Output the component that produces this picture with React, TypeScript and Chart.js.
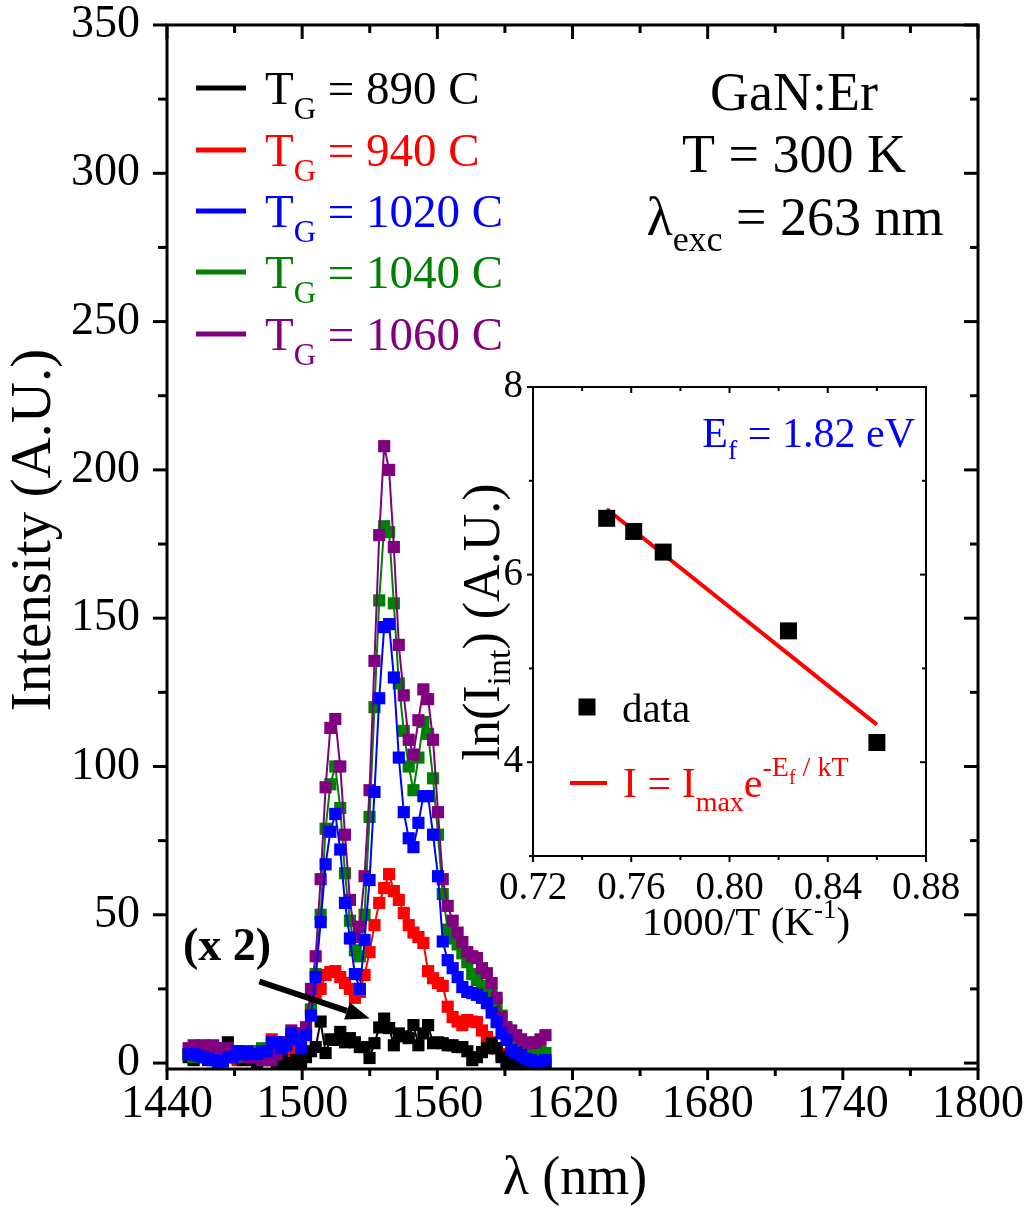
import React, { useEffect, useRef } from "react";
import { Chart, registerables } from "chart.js";

Chart.register(...registerables);

const SERIF = "'Liberation Serif', 'Times New Roman', Times, serif";

// ---------------- main spectrum data ----------------
const wavelengthNm = [
  1449.6, 1451.8, 1453.9, 1456.1, 1458.3, 1460.5, 1462.6, 1464.8, 1467.0, 1469.1,
  1471.3, 1473.5, 1475.6, 1477.8, 1480.0, 1482.2, 1484.3, 1486.5, 1488.7, 1490.8,
  1493.0, 1495.2, 1497.3, 1499.5, 1501.7, 1503.9, 1506.0, 1508.2, 1510.4, 1512.5,
  1514.7, 1516.9, 1519.0, 1521.2, 1523.4, 1525.6, 1527.7, 1529.9, 1532.1, 1534.2,
  1536.4, 1538.6, 1540.7, 1542.9, 1545.1, 1547.3, 1549.4, 1551.6, 1553.8, 1555.9,
  1558.1, 1560.3, 1562.4, 1564.6, 1566.8, 1569.0, 1571.1, 1573.3, 1575.5, 1577.6,
  1579.8, 1582.0, 1584.1, 1586.3, 1588.5, 1590.7, 1592.8, 1595.0, 1597.2, 1599.3,
  1601.5, 1603.7, 1605.8, 1608.0,
];

// T_G = 890 C (shown x 2)
const tg890 = [
  2, 1, 3, 2, 1, 3, 4, 5, 7, 4,
  2, 1, 2, 1, 0, 1, 2, 1, 0, 1,
  0, 0, 1, 0, 2, 4, 5.4, 14, 3.4, 8,
  7.8, 10.5, 7, 8.4, 7, 5.4, 5.4, 1.7, 6.7, 12,
  15, 11.8, 6, 10, 9, 8.4, 12.8, 6, 10, 12.8,
  6.7, 7, 6.7, 6, 6, 5.4, 5.4, 4, 1, 2,
  3.7, 5, 6.7, 5, 2, 0, 1, 0, 0, 0,
  1, 0, 0, 0,
];

// T_G = 940 C
const tg940 = [
  3, 2, 4, 3, 2, 3, 1, 2, 3, 2,
  1, 2, 3, 2, 1, 2, 3, 8, 7, 3,
  2, 4, 5, 6, 10, 18, 22, 25, 29.7, 30.7,
  31, 29, 27, 25, 22, 24, 29.7, 37.4, 46.5, 54,
  59, 63.7, 58, 55, 50.6, 46.5, 44, 42.5, 40.5, 31,
  28.6, 27, 26, 19, 15.5, 14, 12.8, 14.5, 14, 13.8,
  11, 8.8, 7, 5, 3, 2, 1, 1, 0, 1,
  0, 1, 0, 0,
];

// T_G = 1020 C
const tg1020 = [
  3, 3, 2.5, 2, 1.5, 1, 0, 0.5, 2, 2,
  4, 3, 4, 3, 3, 4, 4, 7, 7, 5,
  6, 10, 8, 5, 9.4, 16, 29, 47.5, 67, 78,
  84, 72, 54, 42, 30, 25, 41.5, 61.7, 91.4, 123,
  147, 148, 130, 103, 84.6, 75.8, 72.8, 81, 90, 90,
  77, 63, 41, 34.7, 32, 29, 25.6, 24, 23.6, 23,
  22, 20.2, 17, 13.8, 10, 7.8, 4.4, 3.5, 2.7, 1.5,
  1, 0.5, 0.3, 1,
];

// T_G = 1040 C
const tg1040 = [
  3, 2, 3, 2, 3, 2, 1, 2, 3, 2,
  3, 2, 3, 2, 4, 5, 4, 5, 6, 7,
  7, 8, 9, 10, 12, 18, 30, 50, 79, 94,
  100, 86, 64, 48, 38, 36, 50, 83, 120, 156,
  181, 179, 155, 128, 112, 100, 92, 103, 115, 111,
  96, 77, 57, 45, 42, 40, 37, 34, 30, 28,
  26, 25, 23.6, 20, 16, 11, 8, 6.7, 6, 5,
  5, 4, 4, 3.4,
];

// T_G = 1060 C
const tg1060 = [
  5, 6, 5, 6, 4, 6, 5, 4, 5, 3,
  4, 3, 2, 3, 2, 1, 2, 1, 3, 5,
  7, 11, 8, 10, 12, 25, 36, 62, 93, 113,
  116, 100, 77, 55, 42.5, 46, 63, 92, 135.6, 178,
  208, 200, 174, 141, 124, 109, 104, 115.6, 126, 122.7,
  109, 84.6, 62, 53, 48, 44, 40.8, 37.4, 36, 35.4,
  32, 30.3, 27, 22, 15.5, 12.1, 11, 9.4, 8, 7,
  6.7, 7, 8, 9.4,
];

const growthTemps = ["890", "940", "1020", "1040", "1060"];
const seriesColors = ["#000000", "#ff0000", "#0000ff", "#008000", "#800080"];
const seriesValues = [tg890, tg940, tg1020, tg1040, tg1060];
// drawing order, top first (Chart.js draws dataset 0 last)
const drawOrderTopFirst = [2, 4, 3, 0, 1];

const xTickValues = [1440, 1500, 1560, 1620, 1680, 1740, 1800];
const xMinorValues = [1470, 1530, 1590, 1650, 1710, 1770];
const yTickValues = [0, 50, 100, 150, 200, 250, 300, 350];
const yMinorValues = [25, 75, 125, 175, 225, 275, 325];

// ---------------- inset (Arrhenius) data ----------------
const insetInvT = [0.75, 0.761, 0.773, 0.824, 0.86];
const insetLnI = [6.6, 6.46, 6.24, 5.4, 4.21];
const fitInvT = [0.75, 0.86];
const fitLnI = [6.7, 4.4];
const insetXTicks = [0.72, 0.76, 0.8, 0.84, 0.88];
const insetXMinor = [0.74, 0.78, 0.82, 0.86];
const insetYTicks = [4, 6, 8];
const insetYMinor = [3, 5, 7];

type Seg = { t: string; size: number; dy?: number; bold?: boolean };

function drawRich(
  ctx: CanvasRenderingContext2D,
  segs: Seg[],
  x: number,
  y: number,
  align: "left" | "center" | "right",
  color: string
) {
  const fontOf = (s: Seg) => `${s.bold ? "bold " : ""}${s.size}px ${SERIF}`;
  const widths = segs.map((s) => {
    ctx.font = fontOf(s);
    return ctx.measureText(s.t).width;
  });
  const total = widths.reduce((a, b) => a + b, 0);
  let cx = align === "left" ? x : align === "center" ? x - total / 2 : x - total;
  ctx.textAlign = "left";
  ctx.textBaseline = "alphabetic";
  ctx.fillStyle = color;
  segs.forEach((s, i) => {
    ctx.font = fontOf(s);
    ctx.fillText(s.t, cx, y + (s.dy ?? 0));
    cx += widths[i];
  });
}

type TickCfg = {
  lineWidth: number;
  xMajor: number[];
  xMinor: number[];
  yMajor: number[];
  yMinor: number[];
  outMajor: number;
  outMinor: number;
  leftMajor: number;
  leftMinor: number;
  inMajor: number;
  inMinor: number;
};

function framePlugin(cfg: TickCfg) {
  return {
    id: "frameTicks",
    afterDatasetsDraw(chart: any) {
      const { ctx, chartArea: a, scales } = chart;
      const xs = scales.x;
      const ys = scales.y;
      ctx.save();
      ctx.strokeStyle = "#000";
      ctx.lineWidth = cfg.lineWidth;
      ctx.lineCap = "square";
      ctx.strokeRect(a.left, a.top, a.right - a.left, a.bottom - a.top);
      ctx.lineCap = "butt";
      const seg = (x1: number, y1: number, x2: number, y2: number) => {
        ctx.beginPath();
        ctx.moveTo(x1, y1);
        ctx.lineTo(x2, y2);
        ctx.stroke();
      };
      const xt = (vals: number[], out: number, inn: number) => {
        vals.forEach((v) => {
          const px = xs.getPixelForValue(v);
          seg(px, a.bottom, px, a.bottom + out);
          seg(px, a.top, px, a.top + inn);
        });
      };
      const yt = (vals: number[], out: number, inn: number) => {
        vals.forEach((v) => {
          const py = ys.getPixelForValue(v);
          seg(a.left - out, py, a.left, py);
          seg(a.right - inn, py, a.right, py);
        });
      };
      xt(cfg.xMajor, cfg.outMajor, cfg.inMajor);
      xt(cfg.xMinor, cfg.outMinor, cfg.inMinor);
      yt(cfg.yMajor, cfg.leftMajor, cfg.inMajor);
      yt(cfg.yMinor, cfg.leftMinor, cfg.inMinor);
      ctx.restore();
    },
  };
}

const mainAnnotations = {
  id: "mainAnnotations",
  afterDraw(chart: any) {
    const { ctx, scales } = chart;
    ctx.save();
    // legend
    const rowY = [88, 150, 211, 272, 334];
    growthTemps.forEach((tg, i) => {
      const color = seriesColors[i];
      ctx.strokeStyle = color;
      ctx.lineWidth = 5;
      ctx.beginPath();
      ctx.moveTo(196, rowY[i]);
      ctx.lineTo(246, rowY[i]);
      ctx.stroke();
      drawRich(
        ctx,
        [
          { t: "T", size: 47 },
          { t: "G", size: 31, dy: 15 },
          { t: ` = ${tg} C`, size: 47 },
        ],
        265,
        rowY[i] + 16,
        "left",
        color
      );
    });
    // sample info
    drawRich(ctx, [{ t: "GaN:Er", size: 54 }], 794, 110, "center", "#000");
    drawRich(ctx, [{ t: "T = 300 K", size: 54 }], 794, 172, "center", "#000");
    drawRich(
      ctx,
      [
        { t: "λ", size: 54 },
        { t: "exc", size: 36, dy: 16 },
        { t: " = 263 nm", size: 54 },
      ],
      795,
      235,
      "center",
      "#000"
    );
    // (x 2) note and arrow
    drawRich(ctx, [{ t: "(x 2)", size: 46, bold: true }], 183, 960, "left", "#000");
    const x0 = scales.x.getPixelForValue(1481);
    const y0 = scales.y.getPixelForValue(27.5);
    const x1 = scales.x.getPixelForValue(1530);
    const y1 = scales.y.getPixelForValue(15);
    const ang = Math.atan2(y1 - y0, x1 - x0);
    const headLen = 24;
    const headW = 9;
    const bx = x1 - headLen * Math.cos(ang);
    const by = y1 - headLen * Math.sin(ang);
    ctx.strokeStyle = "#000";
    ctx.lineWidth = 6;
    ctx.beginPath();
    ctx.moveTo(x0, y0);
    ctx.lineTo(bx, by);
    ctx.stroke();
    ctx.fillStyle = "#000";
    ctx.beginPath();
    ctx.moveTo(x1, y1);
    ctx.lineTo(bx + headW * Math.sin(ang), by - headW * Math.cos(ang));
    ctx.lineTo(bx - headW * Math.sin(ang), by + headW * Math.cos(ang));
    ctx.closePath();
    ctx.fill();
    // axis titles
    drawRich(ctx, [{ t: "λ (nm)", size: 54 }], 575, 1194, "center", "#000");
    ctx.translate(50, 530);
    ctx.rotate(-Math.PI / 2);
    drawRich(ctx, [{ t: "Intensity (A.U.)", size: 57 }], 0, 0, "center", "#000");
    ctx.restore();
  },
};

const insetAnnotations = {
  id: "insetAnnotations",
  afterDraw(chart: any) {
    const { ctx } = chart;
    ctx.save();
    drawRich(
      ctx,
      [
        { t: "E", size: 42 },
        { t: "f", size: 28, dy: 12 },
        { t: " = 1.82 eV", size: 42 },
      ],
      475,
      87,
      "right",
      "#0000ff"
    );
    // legend: data
    ctx.fillStyle = "#000";
    ctx.fillRect(147 - 8.5, 347 - 8.5, 17, 17);
    drawRich(ctx, [{ t: "data", size: 41 }], 182, 362, "left", "#000");
    // legend: fit
    ctx.strokeStyle = "#ff0000";
    ctx.lineWidth = 4;
    ctx.beginPath();
    ctx.moveTo(130, 423);
    ctx.lineTo(167, 423);
    ctx.stroke();
    drawRich(
      ctx,
      [
        { t: "I = I", size: 42 },
        { t: "max", size: 28, dy: 14 },
        { t: "e", size: 42 },
        { t: "-E", size: 28, dy: -21 },
        { t: "f", size: 20, dy: -13 },
        { t: " / kT", size: 28, dy: -21 },
      ],
      183,
      437,
      "left",
      "#ff0000"
    );
    // axis titles
    drawRich(
      ctx,
      [
        { t: "1000/T (K", size: 41 },
        { t: "-1", size: 27, dy: -17 },
        { t: ")", size: 41 },
      ],
      306,
      575,
      "center",
      "#000"
    );
    ctx.translate(59, 262);
    ctx.rotate(-Math.PI / 2);
    drawRich(
      ctx,
      [
        { t: "ln(I", size: 52 },
        { t: "int", size: 34, dy: 11 },
        { t: ") (A.U.)", size: 52 },
      ],
      0,
      0,
      "center",
      "#000"
    );
    ctx.restore();
  },
};

const hiddenGrid = (len: number) => ({
  display: true,
  drawOnChartArea: false,
  drawTicks: true,
  tickLength: len,
  color: "rgba(0,0,0,0)",
});

export default function App() {
  const mainRef = useRef<HTMLCanvasElement>(null);
  const insetRef = useRef<HTMLCanvasElement>(null);

  useEffect(() => {
    const datasets = drawOrderTopFirst.map((si) => ({
      label: `T_G = ${growthTemps[si]} C`,
      data: wavelengthNm.map((x, i) => ({ x, y: seriesValues[si][i] })),
      showLine: true,
      borderColor: seriesColors[si],
      backgroundColor: seriesColors[si],
      borderWidth: 2,
      pointStyle: "rect" as const,
      pointRadius: 8.6,
      pointBorderWidth: 0,
      pointBackgroundColor: seriesColors[si],
      tension: 0,
      clip: false as const,
    }));

    const tickFont = { family: SERIF, size: 46, lineHeight: 1 };
    const main = new Chart(mainRef.current!, {
      type: "scatter",
      data: { datasets },
      options: {
        responsive: false,
        animation: false,
        events: [],
        layout: { padding: { left: 0, top: 25, right: 56, bottom: 0 } },
        plugins: { legend: { display: false }, tooltip: { enabled: false } },
        scales: {
          x: {
            type: "linear",
            min: 1440,
            max: 1800,
            afterFit: (s: any) => {
              s.height = 144;
            },
            afterBuildTicks: (s: any) => {
              s.ticks = xTickValues.map((value) => ({ value }));
            },
            grid: hiddenGrid(13),
            border: { display: false },
            ticks: {
              font: tickFont,
              color: "#000",
              padding: 0,
              maxRotation: 0,
              autoSkip: false,
              callback: (v: any) => String(v),
            },
          },
          y: {
            type: "linear",
            min: -2,
            max: 350,
            afterFit: (s: any) => {
              s.width = 167;
            },
            afterBuildTicks: (s: any) => {
              s.ticks = yTickValues.map((value) => ({ value }));
            },
            grid: hiddenGrid(27),
            border: { display: false },
            ticks: {
              font: tickFont,
              color: "#000",
              padding: 0,
              autoSkip: false,
              callback: (v: any) => String(v),
            },
          },
        },
      },
      plugins: [
        framePlugin({
          lineWidth: 3,
          xMajor: xTickValues,
          xMinor: xMinorValues,
          yMajor: yTickValues,
          yMinor: yMinorValues,
          outMajor: 11,
          outMinor: 7,
          leftMajor: 14,
          leftMinor: 9,
          inMajor: 14,
          inMinor: 8,
        }),
        mainAnnotations,
      ],
    } as any);

    const insetFont = { family: SERIF, size: 39, lineHeight: 1 };
    const inset = new Chart(insetRef.current!, {
      type: "scatter",
      data: {
        datasets: [
          {
            label: "data",
            data: insetInvT.map((x, i) => ({ x, y: insetLnI[i] })),
            showLine: false,
            pointStyle: "rect",
            pointRadius: 12,
            pointBorderWidth: 0,
            pointBackgroundColor: "#000",
            backgroundColor: "#000",
            clip: false,
          },
          {
            label: "fit",
            data: fitInvT.map((x, i) => ({ x, y: fitLnI[i] })),
            showLine: true,
            borderColor: "#ff0000",
            borderWidth: 4,
            pointRadius: 0,
            clip: false,
          },
        ],
      },
      options: {
        responsive: false,
        animation: false,
        events: [],
        layout: { padding: { left: 0, top: 27, right: 54, bottom: 0 } },
        plugins: { legend: { display: false }, tooltip: { enabled: false } },
        scales: {
          x: {
            type: "linear",
            min: 0.72,
            max: 0.88,
            afterFit: (s: any) => {
              s.height = 124;
            },
            afterBuildTicks: (s: any) => {
              s.ticks = insetXTicks.map((value) => ({ value }));
            },
            grid: hiddenGrid(13),
            border: { display: false },
            ticks: {
              font: insetFont,
              color: "#000",
              padding: 0,
              maxRotation: 0,
              autoSkip: false,
              callback: (v: any) => Number(v).toFixed(2),
            },
          },
          y: {
            type: "linear",
            min: 3,
            max: 8,
            afterFit: (s: any) => {
              s.width = 93;
            },
            afterBuildTicks: (s: any) => {
              s.ticks = insetYTicks.map((value) => ({ value }));
            },
            grid: hiddenGrid(10),
            border: { display: false },
            ticks: {
              font: insetFont,
              color: "#000",
              padding: 0,
              autoSkip: false,
              callback: (v: any) => String(v),
            },
          },
        },
      },
      plugins: [
        framePlugin({
          lineWidth: 2,
          xMajor: insetXTicks,
          xMinor: insetXMinor,
          yMajor: insetYTicks,
          yMinor: insetYMinor,
          outMajor: 6,
          outMinor: 4,
          leftMajor: 6,
          leftMinor: 4,
          inMajor: 6,
          inMinor: 4,
        }),
        insetAnnotations,
      ],
    } as any);

    return () => {
      main.destroy();
      inset.destroy();
    };
  }, []);

  return (
    <div
      style={{
        position: "absolute",
        left: 0,
        top: 0,
        width: 1034,
        height: 1213,
        background: "#ffffff",
      }}
    >
      <canvas
        ref={mainRef}
        width={1034}
        height={1213}
        style={{ position: "absolute", left: 0, top: 0, width: 1034, height: 1213 }}
      />
      <canvas
        ref={insetRef}
        width={540}
        height={620}
        style={{ position: "absolute", left: 440, top: 360, width: 540, height: 620 }}
      />
    </div>
  );
}
